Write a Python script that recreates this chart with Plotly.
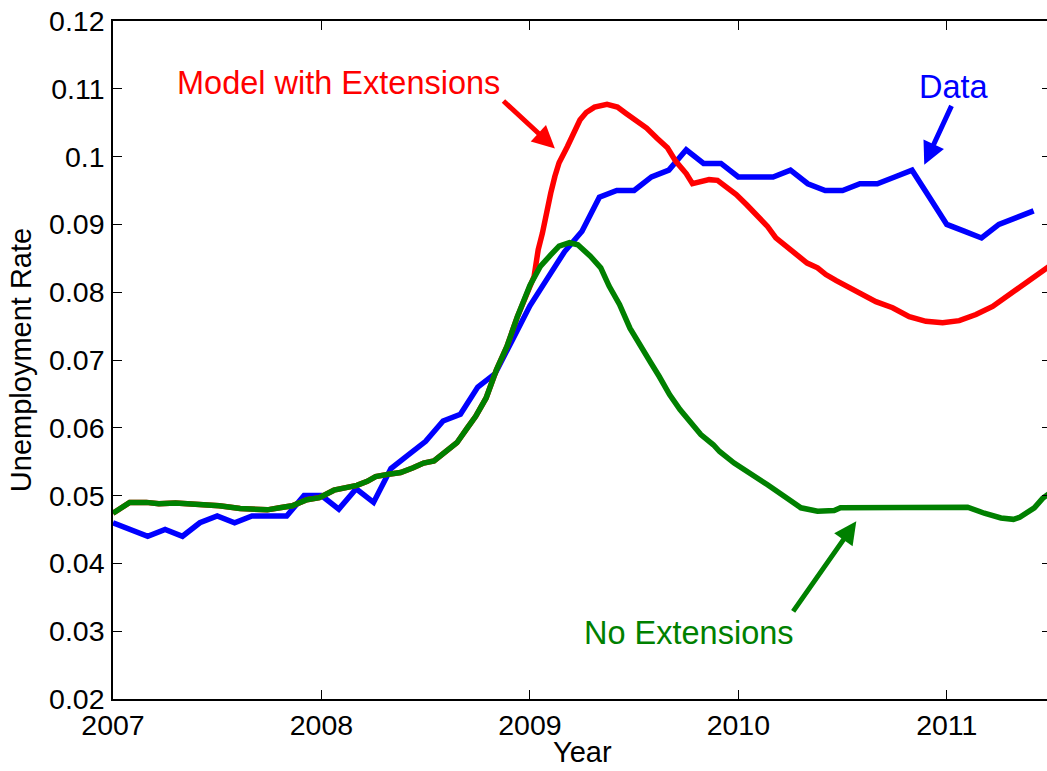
import plotly.graph_objects as go

# ---------------- data ----------------
# Observed unemployment rate, monthly from Jan 2007
data_rate = [
    0.046, 0.045, 0.044, 0.045, 0.044, 0.046, 0.047, 0.046, 0.047, 0.047, 0.047, 0.050,
    0.050, 0.048, 0.051, 0.049, 0.054, 0.056, 0.058, 0.061, 0.062, 0.066, 0.068, 0.073,
    0.078, 0.082, 0.086, 0.089, 0.094, 0.095, 0.095, 0.097, 0.098, 0.101, 0.099, 0.099,
    0.097, 0.097, 0.097, 0.098, 0.096, 0.095, 0.095, 0.096, 0.096, 0.097, 0.098, 0.094,
    0.090, 0.089, 0.088, 0.090, 0.091, 0.092,
]
data_year = [2007 + i / 12 for i in range(len(data_rate))]

# Model without extensions
noext_year = [
    2007.00, 2007.08, 2007.16, 2007.22, 2007.30, 2007.42, 2007.51, 2007.61, 2007.69, 2007.74,
    2007.80, 2007.86, 2007.93, 2007.99, 2008.06, 2008.12, 2008.17, 2008.22, 2008.26, 2008.33,
    2008.38, 2008.44, 2008.49, 2008.54, 2008.58, 2008.65, 2008.70, 2008.74, 2008.79, 2008.84,
    2008.89, 2008.94, 2009.00, 2009.05, 2009.10, 2009.14, 2009.19, 2009.23, 2009.29, 2009.34,
    2009.38, 2009.43, 2009.48, 2009.53, 2009.58, 2009.62, 2009.67, 2009.72, 2009.77, 2009.82,
    2009.88, 2009.91, 2009.98, 2010.06, 2010.14, 2010.22, 2010.30, 2010.38, 2010.46, 2010.49,
    2010.62, 2010.65, 2010.78, 2010.81, 2011.03, 2011.06, 2011.10, 2011.18, 2011.26, 2011.32,
    2011.35, 2011.42, 2011.46, 2011.50,
]
noext_rate = [
    0.0474, 0.0490, 0.0490, 0.0488, 0.0489, 0.0487, 0.0485, 0.0481, 0.0481, 0.0479,
    0.0482, 0.0485, 0.0494, 0.0497, 0.0508, 0.0511, 0.0515, 0.0521, 0.0528, 0.0532,
    0.0534, 0.0541, 0.0548, 0.0551, 0.0560, 0.0578, 0.0600, 0.0617, 0.0644, 0.0686,
    0.0720, 0.0764, 0.0810, 0.0838, 0.0855, 0.0868, 0.0873, 0.0870, 0.0853, 0.0836,
    0.0809, 0.0782, 0.0747, 0.0720, 0.0696, 0.0676, 0.0649, 0.0627, 0.0607, 0.0590,
    0.0575, 0.0565, 0.0548, 0.0533, 0.0516, 0.0499, 0.0482, 0.0477, 0.0478, 0.0482,
    0.0482, 0.0484, 0.0483, 0.0482, 0.0482, 0.0484, 0.0483, 0.0474, 0.0467, 0.0465,
    0.0468, 0.0482, 0.0496, 0.0505,
]

# Model with extensions (identical to the no-extension path before 2009)
ext_split_year = 2009.0
ext_tail_year = [
    2009.02, 2009.04, 2009.06, 2009.08, 2009.10, 2009.12, 2009.14, 2009.18, 2009.21, 2009.24,
    2009.27, 2009.31, 2009.37, 2009.42, 2009.46, 2009.51, 2009.56, 2009.61, 2009.66, 2009.70,
    2009.75, 2009.78, 2009.82, 2009.86, 2009.90, 2009.94, 2009.99, 2010.04, 2010.09, 2010.14,
    2010.18, 2010.23, 2010.28, 2010.33, 2010.38, 2010.42, 2010.47, 2010.52, 2010.58, 2010.66,
    2010.74, 2010.82, 2010.90, 2010.98, 2011.06, 2011.14, 2011.22, 2011.30, 2011.39, 2011.45,
    2011.50,
]
ext_tail_rate = [
    0.0823, 0.0863, 0.0887, 0.0922, 0.0946, 0.0971, 0.0991, 0.1015, 0.1037, 0.1054,
    0.1065, 0.1073, 0.1077, 0.1073, 0.1064, 0.1054, 0.1042, 0.1027, 0.1013, 0.0993,
    0.0975, 0.0960, 0.0963, 0.0966, 0.0965, 0.0956, 0.0944, 0.0929, 0.0913, 0.0897,
    0.0880, 0.0868, 0.0855, 0.0843, 0.0836, 0.0826, 0.0817, 0.0809, 0.0800, 0.0786,
    0.0777, 0.0764, 0.0757, 0.0755, 0.0758, 0.0767, 0.0779, 0.0796, 0.0816, 0.0828,
    0.0840,
]
ext_year = [x for x in noext_year if x < ext_split_year] + ext_tail_year
ext_rate = [r for x, r in zip(noext_year, noext_rate) if x < ext_split_year] + ext_tail_rate

x_ticks = [2007, 2008, 2009, 2010, 2011]
y_ticks = [0.02, 0.03, 0.04, 0.05, 0.06, 0.07, 0.08, 0.09, 0.10, 0.11, 0.12]
y_tick_text = ["0.02", "0.03", "0.04", "0.05", "0.06", "0.07", "0.08", "0.09", "0.1", "0.11", "0.12"]

BLUE = "#0000FF"
RED = "#FF0000"
GREEN = "#008000"
FONT = "Liberation Sans, Arial, Helvetica, sans-serif"
LW = 5.5

fig = go.Figure()
fig.add_trace(go.Scatter(x=data_year, y=data_rate, mode="lines",
                         line=dict(color=BLUE, width=LW), name="Data"))
fig.add_trace(go.Scatter(x=ext_year, y=ext_rate, mode="lines",
                         line=dict(color=RED, width=LW), name="Model with Extensions"))
fig.add_trace(go.Scatter(x=noext_year, y=noext_rate, mode="lines",
                         line=dict(color=GREEN, width=LW), name="No Extensions"))

# labels
labels = [
    ("Model with Extensions", 2008.084, 0.1108, RED),
    ("Data", 2011.036, 0.1102, BLUE),
    ("No Extensions", 2009.763, 0.0298, GREEN),
]
for text, x, y, c in labels:
    fig.add_annotation(x=x, y=y, xref="x", yref="y", text=text, showarrow=False,
                       font=dict(family=FONT, size=32.5, color=c),
                       xanchor="center", yanchor="middle")

# arrows: (tail_x, tail_y) -> (tip_x, tip_y)
arrows = [
    (2008.866, 0.1084, 2009.12, 0.1012, RED),
    (2011.026, 0.1077, 2010.892, 0.0988, BLUE),
    (2010.258, 0.0327, 2010.566, 0.0462, GREEN),
]
for tx, ty, hx, hy, c in arrows:
    fig.add_annotation(x=hx, y=hy, ax=tx, ay=ty, xref="x", yref="y", axref="x", ayref="y",
                       text="", showarrow=True, arrowhead=2, arrowsize=0.9,
                       arrowwidth=5, arrowcolor=c, standoff=0, startstandoff=0)

# x-axis title placed just under the tick labels
fig.add_annotation(x=0.5, y=0, xref="paper", yref="paper", text="Year", showarrow=False,
                   font=dict(family=FONT, size=29, color="black"),
                   xanchor="center", yanchor="middle", yshift=-53)

# figure is 4px wider than the window so the right spine falls just outside the view,
# as in the reference
fig.update_layout(
    width=1051, height=771,
    margin=dict(l=113, r=0, t=21, b=72, autoexpand=False),
    paper_bgcolor="white", plot_bgcolor="white",
    showlegend=False,
    font=dict(family=FONT, color="black", size=29),
)
fig.update_xaxes(
    range=[2007, 2011.5], tickvals=x_ticks, ticktext=[str(v) for v in x_ticks],
    ticks="inside", ticklen=9, tickwidth=1, tickcolor="black",
    showline=True, linecolor="black", linewidth=1.5, mirror="ticks",
    showgrid=False, zeroline=False, ticklabeloverflow="allow", automargin=False,
    tickfont=dict(family=FONT, size=28.5, color="black"),
)
fig.update_yaxes(
    range=[0.02, 0.12], tickvals=y_ticks, ticktext=y_tick_text,
    ticks="inside", ticklen=9, tickwidth=1, tickcolor="black",
    showline=True, linecolor="black", linewidth=1.5, mirror="ticks",
    showgrid=False, zeroline=False, ticklabelstandoff=1, ticklabeloverflow="allow",
    automargin=False,
    tickfont=dict(family=FONT, size=28.5, color="black"),
    title=dict(text="Unemployment Rate", font=dict(family=FONT, size=29, color="black"), standoff=9),
)

fig.write_html("out.html",
               config={"displayModeBar": False},
               post_script="document.body.style.margin='0px'; document.body.style.overflow='hidden';")
